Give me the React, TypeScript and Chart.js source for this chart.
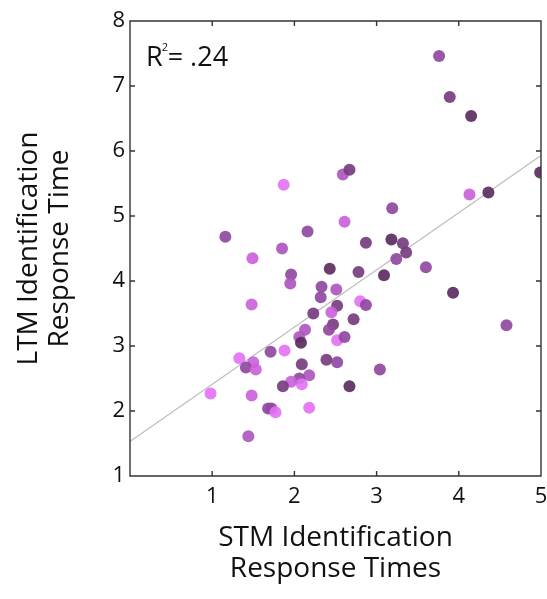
import { useEffect, useRef } from "react";
import { Chart, registerables } from "chart.js";

Chart.register(...registerables);

// STM identification response times (x) and LTM identification response times (y)
const stmTimes = [
  1.87, 2.59, 2.67, 1.16, 2.16, 1.85, 3.76, 3.89, 4.15, 4.99,
  4.13, 4.36, 3.19, 2.61, 2.87, 3.18, 3.32, 3.36, 3.24, 3.60,
  2.78, 3.09, 3.93, 1.49, 1.96, 1.95, 2.43, 2.33, 2.32, 2.51,
  2.52, 2.45, 2.23, 2.13, 2.06, 2.08, 2.47, 2.42, 2.52, 2.80,
  2.87, 2.72, 2.61, 1.48, 1.71, 1.88, 1.33, 1.50, 1.41, 1.53,
  2.09, 2.39, 2.52, 2.18, 2.06, 2.09, 1.96, 1.86, 0.98, 1.48,
  1.68, 1.72, 1.77, 2.18, 1.44, 4.58, 3.04, 2.67,
];
const ltmTimes = [
  5.48, 5.64, 5.71, 4.68, 4.76, 4.50, 7.46, 6.83, 6.54, 5.67,
  5.33, 5.36, 5.12, 4.91, 4.59, 4.64, 4.58, 4.44, 4.34, 4.21,
  4.14, 4.09, 3.82, 4.35, 4.10, 3.96, 4.19, 3.91, 3.75, 3.87,
  3.62, 3.52, 3.50, 3.25, 3.14, 3.05, 3.33, 3.25, 3.09, 3.69,
  3.63, 3.41, 3.14, 3.64, 2.91, 2.93, 2.81, 2.75, 2.67, 2.64,
  2.72, 2.79, 2.75, 2.55, 2.50, 2.41, 2.45, 2.38, 2.27, 2.24,
  2.04, 2.04, 1.98, 2.05, 1.61, 3.32, 2.64, 2.38,
];
// shade level of each participant's dot (0 = darkest, 5 = brightest pink)
const shadeLevel = [
  5, 3, 1, 2, 2, 3, 2, 1, 0, 0,
  4, 0, 2, 4, 1, 0, 1, 1, 2, 2,
  1, 0, 0, 4, 2, 3, 0, 2, 2, 3,
  1, 4, 1, 3, 3, 0, 1, 2, 5, 5,
  2, 1, 2, 4, 2, 5, 5, 4, 2, 4,
  1, 1, 2, 3, 2, 5, 4, 1, 5, 4,
  2, 2, 5, 5, 3, 2, 2, 0,
];
const regressionX = [0, 5];
const regressionY = [1.53, 5.93];
const xTickValues = [1, 2, 3, 4, 5];
const yTickValues = [1, 2, 3, 4, 5, 6, 7, 8];
const rSquaredValue = ".24";

const palette = ["#5a2a5d", "#753a7b", "#8f479e", "#ad56be", "#c961da", "#e372f4"];
const FONT = "'Open Sans', 'Noto Sans', sans-serif";

export default function App() {
  const canvasRef = useRef<HTMLCanvasElement | null>(null);

  useEffect(() => {
    const canvas = canvasRef.current;
    if (!canvas) return;

    const framePlugin = {
      id: "frameAndAnnotation",
      afterDraw(chart: any) {
        const { ctx, chartArea } = chart;
        const { left, right, top, bottom } = chartArea;
        const xs = chart.scales.x;
        const ys = chart.scales.y;
        const tl = 5;
        ctx.save();
        ctx.strokeStyle = "#333";
        ctx.lineWidth = 1.4;
        ctx.beginPath();
        ctx.rect(left, top, right - left, bottom - top);
        ctx.stroke();
        ctx.beginPath();
        xTickValues.forEach((v) => {
          if (v <= 0 || v >= 5) return;
          const px = xs.getPixelForValue(v);
          ctx.moveTo(px, bottom);
          ctx.lineTo(px, bottom - tl);
          ctx.moveTo(px, top);
          ctx.lineTo(px, top + tl);
        });
        yTickValues.forEach((v) => {
          if (v <= 1 || v >= 8) return;
          const py = ys.getPixelForValue(v);
          ctx.moveTo(left, py);
          ctx.lineTo(left + tl, py);
          ctx.moveTo(right, py);
          ctx.lineTo(right - tl, py);
        });
        ctx.stroke();

        // R² annotation
        ctx.fillStyle = "#111";
        ctx.textBaseline = "alphabetic";
        ctx.textAlign = "left";
        const ax = left + 16;
        const ay = top + 45;
        ctx.font = `27px ${FONT}`;
        ctx.fillText("R", ax, ay);
        const rw = ctx.measureText("R").width;
        ctx.font = `11px ${FONT}`;
        ctx.fillText("2", ax + rw - 1, ay - 15);
        ctx.font = `27px ${FONT}`;
        ctx.fillText("= " + rSquaredValue, ax + rw + 5, ay);
        ctx.restore();
      },
    };

    const points = stmTimes.map((x, i) => ({ x, y: ltmTimes[i] }));
    const lineData = regressionX.map((x, i) => ({ x, y: regressionY[i] }));

    const chart = new Chart(canvas, {
      type: "scatter",
      data: {
        datasets: [
          {
            type: "line",
            data: lineData,
            borderColor: "#bdbdbd",
            borderWidth: 1.2,
            pointRadius: 0,
            fill: false,
            order: 2,
          } as any,
          {
            type: "scatter",
            data: points,
            backgroundColor: shadeLevel.map((s) => palette[s] + "e8"),
            borderWidth: 0,
            pointRadius: 6,
            pointHoverRadius: 6,
            order: 1,
          },
        ],
      },
      options: {
        responsive: false,
        animation: false,
        devicePixelRatio: 1,
        layout: { padding: { top: 21, right: 4, bottom: 0, left: 0 } },
        plugins: {
          legend: { display: false },
          tooltip: { enabled: false },
        },
        scales: {
          x: {
            type: "linear",
            min: 0,
            max: 5,
            grid: { display: false, drawTicks: false },
            border: { display: false },
            afterBuildTicks: (s: any) => {
              s.ticks = [0, ...xTickValues].map((v) => ({ value: v }));
            },
            ticks: {
              autoSkip: false,
              maxRotation: 0,
              padding: 8,
              color: "#111",
              font: { family: FONT, size: 22 },
              callback: (v: any) => (v === 0 ? "" : String(v)),
            },
            title: {
              display: true,
              text: ["STM Identification", "Response Times"],
              color: "#111",
              font: { family: FONT, size: 28, lineHeight: 31 / 28 },
              padding: { top: 0, bottom: 14 },
            },
            afterFit: (s: any) => {
              s.height = 123;
              s.paddingLeft = 0;
              s.paddingRight = 0;
            },
          },
          y: {
            type: "linear",
            min: 1,
            max: 8,
            grid: { display: false, drawTicks: false },
            border: { display: false },
            afterBuildTicks: (s: any) => {
              s.ticks = yTickValues.map((v) => ({ value: v }));
            },
            ticks: {
              autoSkip: false,
              padding: 5,
              color: "#111",
              font: { family: FONT, size: 22 },
            },
            title: {
              display: true,
              text: ["LTM Identification", "Response Time"],
              color: "#111",
              font: { family: FONT, size: 28, lineHeight: 31 / 28 },
              padding: { top: 14, bottom: 0 },
            },
            afterFit: (s: any) => {
              s.width = 130;
              s.paddingTop = 0;
              s.paddingBottom = 0;
            },
          },
        },
      },
      plugins: [framePlugin],
    });

    return () => chart.destroy();
  }, []);

  return (
    <div style={{ position: "absolute", left: 0, top: 0, width: 547, height: 599, background: "#fff" }}>
      <canvas ref={canvasRef} width={547} height={599} style={{ width: 547, height: 599, display: "block" }} />
    </div>
  );
}
